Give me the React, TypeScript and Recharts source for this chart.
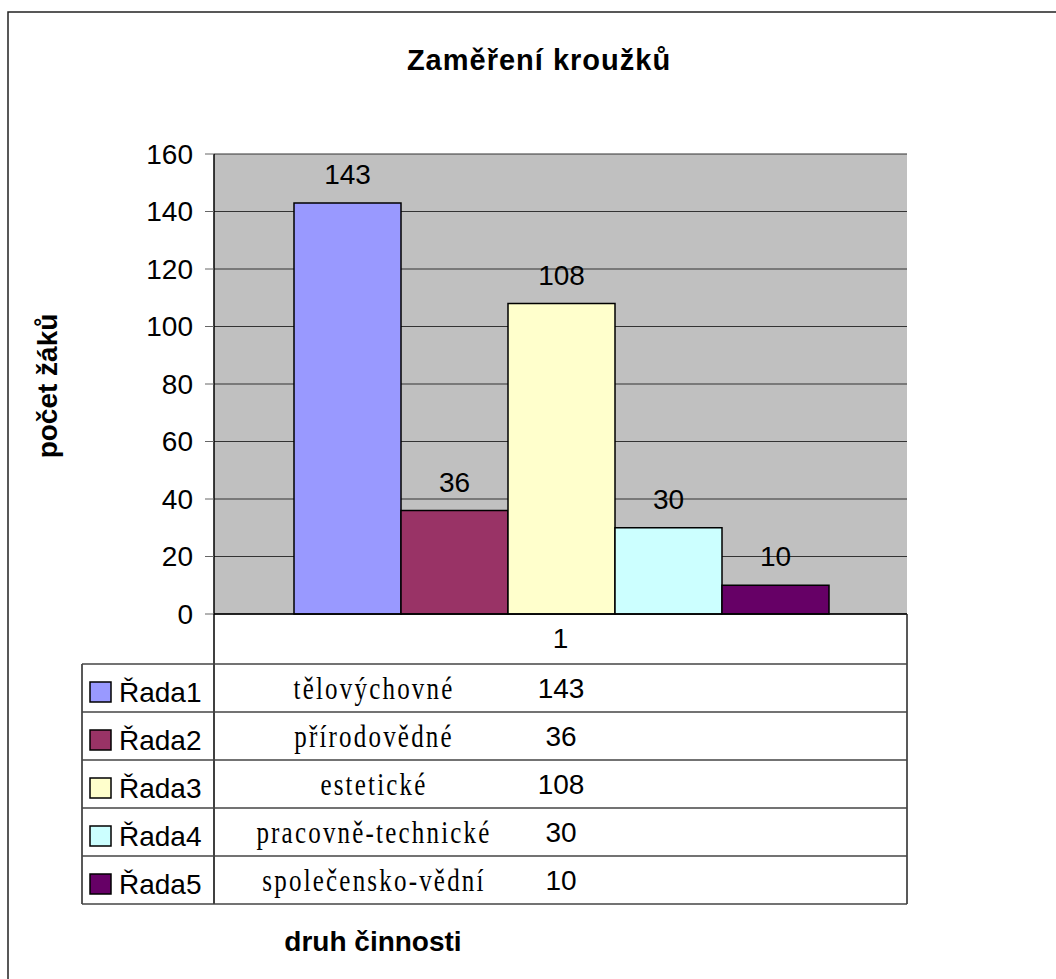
import React from 'react';
import { BarChart, Bar, XAxis, YAxis, CartesianGrid, LabelList } from 'recharts';

const seriesNames = ['Řada1', 'Řada2', 'Řada3', 'Řada4', 'Řada5'];
const categoryNames = ['tělovýchovné', 'přírodovědné', 'estetické', 'pracovně-technické', 'společensko-vědní'];
const seriesValues = [143, 36, 108, 30, 10];
const seriesColors = ['#9999FF', '#993366', '#FFFFCC', '#CCFFFF', '#660066'];
const xCategories = ['1'];
const yTicks = [0, 20, 40, 60, 80, 100, 120, 140, 160];

const chartTitle = 'Zaměření kroužků';
const yTitle = 'počet žáků';
const xTitle = 'druh činnosti';

const data = xCategories.map((c) => {
  const row: Record<string, string | number> = { name: c };
  seriesValues.forEach((v, i) => {
    row['s' + i] = v;
  });
  return row;
});

const W = 1056;
const H = 979;
const PLOT_LEFT = 214;
const PLOT_TOP = 154;
const PLOT_RIGHT = 907;
const PLOT_BOTTOM = 614;
const TABLE_TOP = 664;
const ROW_H = 48;
const TABLE_LEFT = 82;

const SANS = '"Liberation Sans", Arial, sans-serif';
const SERIF = '"Liberation Serif", "Times New Roman", serif';

export default function App() {
  const rows = seriesNames.map((n, i) => ({ n, i, top: TABLE_TOP + i * ROW_H }));
  return (
    <div
      style={{
        position: 'absolute',
        left: 0,
        top: 0,
        width: W,
        height: H,
        overflow: 'hidden',
        background: '#fff',
        fontFamily: SANS,
      }}
    >
      <BarChart
        width={W}
        height={H}
        data={data}
        margin={{ top: PLOT_TOP, right: W - PLOT_RIGHT, bottom: H - PLOT_BOTTOM - 50, left: PLOT_LEFT - 60 }}
        barCategoryGap={80}
        barGap={0}
      >
        <CartesianGrid vertical={false} stroke="#333" fill="#C0C0C0" fillOpacity={1} />
        <XAxis
          dataKey="name"
          height={50}
          axisLine={{ stroke: '#000', strokeWidth: 1.5 }}
          tickLine={false}
          tickSize={0}
          tickMargin={14}
          tick={{ fontSize: 28, fill: '#000', fontFamily: SANS }}
        />
        <XAxis xAxisId="top" orientation="top" dataKey="name" height={0} tick={false} tickLine={false} axisLine={{ stroke: '#808080', strokeWidth: 1.5 }} />
        <YAxis
          width={60}
          domain={[0, 160]}
          ticks={yTicks}
          interval={0}
          tickSize={9}
          tickMargin={12}
          axisLine={{ stroke: '#000', strokeWidth: 1.5 }}
          tickLine={{ stroke: '#666' }}
          tick={{ fontSize: 28, fill: '#000', fontFamily: SANS }}
        />
        <YAxis yAxisId="right" orientation="right" width={0} domain={[0, 160]} tick={false} tickLine={false} axisLine={{ stroke: '#808080', strokeWidth: 1.5 }} />
        {seriesNames.map((n, i) => (
          <Bar key={n} dataKey={'s' + i} name={n} fill={seriesColors[i]} stroke="#000" strokeWidth={1.5} isAnimationActive={false}>
            <LabelList dataKey={'s' + i} position="top" offset={19} style={{ fontSize: 28, fill: '#000', fontFamily: SANS }} />
          </Bar>
        ))}
      </BarChart>

      <svg width={W} height={H} style={{ position: 'absolute', left: 0, top: 0, pointerEvents: 'none' }}>
        <rect x={8} y={12} width={1200} height={1200} fill="none" stroke="#222" strokeWidth={1.5} />
        <text x={539} y={70} textAnchor="middle" fontFamily={SANS} fontWeight="bold" fontSize={29} letterSpacing={1} fill="#000">
          {chartTitle}
        </text>
        <text
          transform={`translate(57, 386) rotate(-90)`}
          textAnchor="middle"
          fontFamily={SANS}
          fontWeight="bold"
          fontSize={28}
          fill="#000"
        >
          {yTitle}
        </text>
        <text x={373} y={951} textAnchor="middle" fontFamily={SANS} fontWeight="bold" fontSize={28} fill="#000">
          {xTitle}
        </text>

        {/* data table */}
        <line x1={PLOT_LEFT} y1={PLOT_BOTTOM} x2={PLOT_LEFT} y2={TABLE_TOP + ROW_H * 5} stroke="#000" strokeWidth={1.5} />
        <line x1={PLOT_RIGHT} y1={PLOT_BOTTOM} x2={PLOT_RIGHT} y2={TABLE_TOP + ROW_H * 5} stroke="#222" strokeWidth={1.5} />
        <line x1={TABLE_LEFT} y1={TABLE_TOP} x2={TABLE_LEFT} y2={TABLE_TOP + ROW_H * 5} stroke="#222" strokeWidth={1.5} />
        {[0, 1, 2, 3, 4, 5].map((k) => (
          <line key={k} x1={TABLE_LEFT} y1={TABLE_TOP + k * ROW_H} x2={PLOT_RIGHT} y2={TABLE_TOP + k * ROW_H} stroke="#444" strokeWidth={1.5} />
        ))}
        {rows.map(({ n, i, top }) => {
          const cy = top + ROW_H / 2;
          return (
            <g key={n}>
              <rect x={90} y={cy - 6} width={21} height={20} fill={seriesColors[i]} stroke="#000" strokeWidth={1.5} />
              <text x={119} y={cy + 14} fontFamily={SANS} fontSize={28} fill="#000">
                {n}
              </text>
              <text
                transform={`translate(374, ${cy + 11}) scale(1, 1.25)`}
                textAnchor="middle"
                fontFamily={SERIF}
                fontSize={25}
                letterSpacing={2.2}
                fill="#000"
              >
                {categoryNames[i]}
              </text>
              <text x={561} y={cy + 10} textAnchor="middle" fontFamily={SANS} fontSize={28} fill="#000">
                {seriesValues[i]}
              </text>
            </g>
          );
        })}
      </svg>
    </div>
  );
}
